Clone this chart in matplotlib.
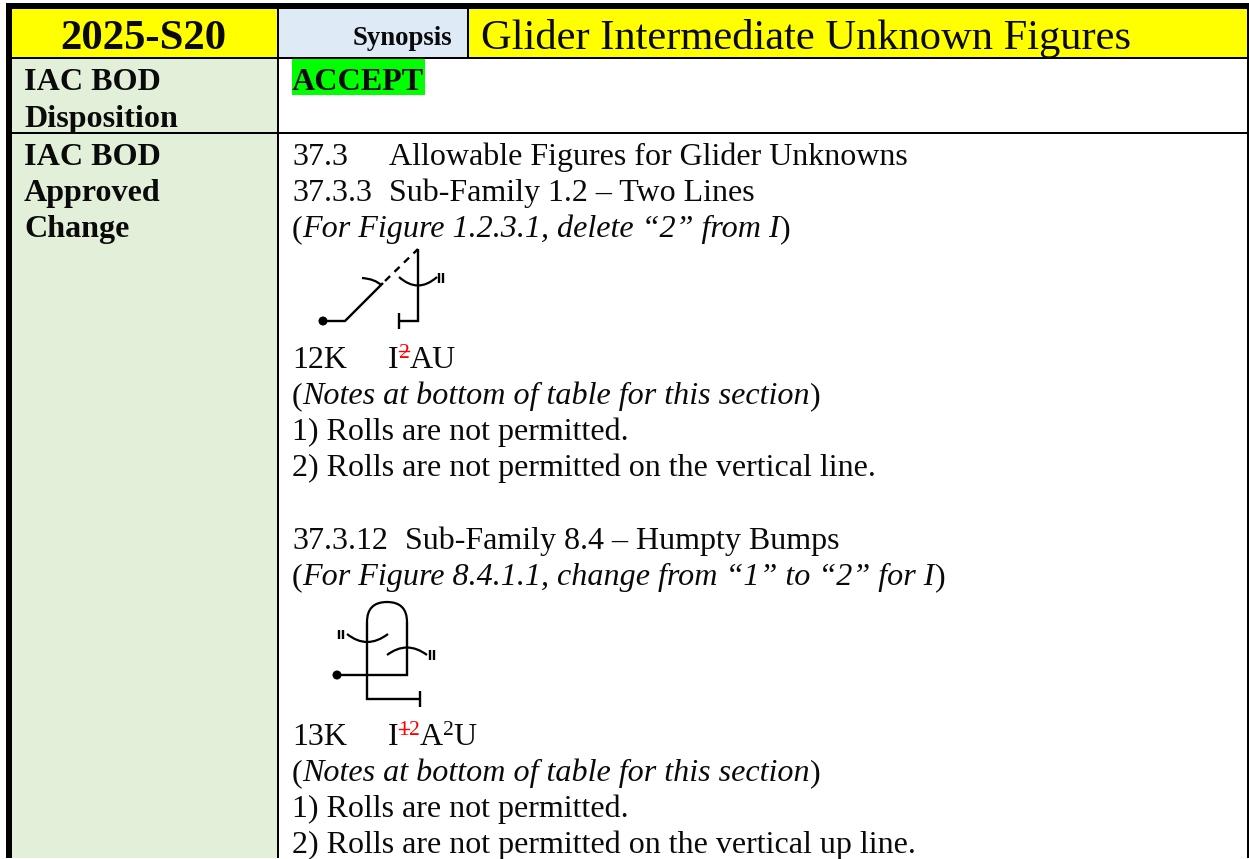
import matplotlib
matplotlib.use("Agg")
import matplotlib.pyplot as plt
from matplotlib.patches import Rectangle, PathPatch, Circle
from matplotlib.path import Path

W, H = 1249, 859
SERIF = "Liberation Serif"
BODY = 23.0
ITALIC = 23.1
Y_SHIFT = 2

header_id = "2025-S20"
header_syn = "Synopsis"
header_title = "Glider Intermediate Unknown Figures"
disposition = "ACCEPT"
left_labels = [("IAC BOD", 88), ("Disposition", 125), ("IAC BOD", 163), ("Approved", 199), ("Change", 235)]

plain_lines = [
    ("37.3", 292, 163), ("Allowable Figures for Glider Unknowns", 389, 163),
    ("37.3.3", 292, 199), ("Sub-Family 1.2 – Two Lines", 389, 199),
    ("12K", 292, 366),
    ("1) Rolls are not permitted.", 292, 438),
    ("2) Rolls are not permitted on the vertical line.", 292, 474),
    ("37.3.12", 292, 547), ("Sub-Family 8.4 – Humpty Bumps", 405, 547),
    ("13K", 292, 743),
    ("1) Rolls are not permitted.", 292, 815),
    ("2) Rolls are not permitted on the vertical up line.", 292, 851),
]
italic_lines = [
    ("For Figure 1.2.3.1, delete “2” from I", 235),
    ("Notes at bottom of table for this section", 402),
    ("For Figure 8.4.1.1, change from “1” to “2” for I", 583),
    ("Notes at bottom of table for this section", 779),
]

# schematic aerobatic figures (pixel positions)
fig1_solid = [[(323, 321), (345, 321), (383, 283)], [(418, 249), (418, 321), (399, 321)], [(399, 313), (399, 329)],
              [(439.5, 273), (439.5, 283)], [(443, 273), (443, 283)]]
fig1_dash = [(385, 281), (418, 249)]
fig1_arcs = [[(362, 278), (375, 279), (381, 285)], [(399, 277), (418, 294), (437, 277)]]
fig1_dot = (323, 321)

fig2_solid = [[(337, 675), (407, 675), (407, 622)], [(367, 622), (367, 699), (420, 699)], [(420, 691), (420, 707)],
              [(339.5, 630), (339.5, 639)], [(343.5, 630), (343.5, 639)],
              [(430.5, 650), (430.5, 660)], [(434.5, 650), (434.5, 660)]]
fig2_arcs = [[(347, 634), (367, 650), (388, 634)], [(387, 655), (407, 640), (427, 655)]]
fig2_loop = [(367, 622), (367, 602), (387, 602), (407, 602), (407, 622)]
fig2_dot = (337, 675)

fig = plt.figure(figsize=(W / 100, H / 100), dpi=100)
ax = fig.add_axes([0, 0, 1, 1])
ax.set_xlim(0, W)
ax.set_ylim(H, 0)
ax.axis("off")


def rect(x0, y0, x1, y1, c, z=1):
    ax.add_patch(Rectangle((x0, y0), x1 - x0, y1 - y0, fc=c, ec="none", lw=0, zorder=z))


def txt(x, y, s, size=BODY, **kw):
    kw.setdefault("color", "#0a0a0a")
    return ax.text(x, y + Y_SHIFT, s, family=SERIF, fontsize=size, va="baseline", zorder=5, **kw)


def adv(t):
    bb = t.get_window_extent(fig.canvas.get_renderer()).transformed(ax.transData.inverted())
    return bb.x1


def runs(x, y, parts):
    for s, kw in parts:
        t = txt(x, y, s, **kw)
        x = adv(t)
    return x


# backgrounds and rules
rect(6, 3, W, 9, "black")
rect(6, 3, 12, 858, "black")
rect(12, 9, 277, 57, "#ffff00")
rect(279, 9, 467, 57, "#deeaf6")
rect(469, 9, 1247, 57, "#ffff00")
rect(12, 59, 277, 858, "#e2efd9")
rect(277, 9, 279, 858, "black")
rect(467, 9, 469, 57, "black")
rect(12, 57, 1247, 59, "black")
rect(12, 132, 1247, 134, "black")
rect(1247, 3, 1249, 858, "black")
rect(292, 59, 425, 95, "#00ff00", 2)

# headers
txt(143, 47, header_id, size=30.7, weight="bold", ha="center")
txt(353, 43, header_syn, size=19.3, weight="bold")
txt(481, 47, header_title, size=30.6)
txt(292, 88, disposition, size=ITALIC, weight="bold")
for s, y in left_labels:
    txt(24, y, s, size=ITALIC, weight="bold")

# body
for s, x, y in plain_lines:
    txt(x, y, s)
for s, y in italic_lines:
    runs(292, y, [("(", {"size": ITALIC}), (s, {"style": "italic", "size": ITALIC}), (")", {"size": ITALIC})])

# figure labels with struck-out revisions
RED = "#ff0000"
SUP = 15.5
x = adv(txt(388, 366, "I"))
x1 = adv(txt(x, 356, "2", size=SUP, color=RED))
ax.plot([x, x1], [351, 351], color=RED, lw=1, zorder=6)
txt(x1, 366, "AU")

x = adv(txt(388, 743, "I"))
x1 = adv(txt(x, 733, "1", size=SUP, color=RED))
ax.plot([x, x1], [729, 729], color=RED, lw=1, zorder=6)
x2 = adv(txt(x1, 733, "2", size=SUP, color=RED))
x3 = adv(txt(x2, 743, "A"))
x4 = adv(txt(x3, 733, "2", size=SUP))
txt(x4, 743, "U")


# figures
def poly(pts, **kw):
    xs, ys = zip(*pts)
    ax.plot(xs, ys, color="black", lw=1.7, solid_joinstyle="miter", solid_capstyle="butt", zorder=4, **kw)


def curve(pts, codes):
    ax.add_patch(PathPatch(Path(pts, codes), fc="none", ec="black", lw=1.6, zorder=4))


for p in fig1_solid + fig2_solid:
    poly(p)
poly(fig1_dash, linestyle=(0, (3, 2.6)), dash_capstyle="butt")
for p in fig1_arcs + fig2_arcs:
    curve(p, [Path.MOVETO, Path.CURVE3, Path.CURVE3])
curve(fig2_loop, [Path.MOVETO, Path.CURVE3, Path.CURVE3, Path.CURVE3, Path.CURVE3])
for d in (fig1_dot, fig2_dot):
    ax.add_patch(Circle(d, 4.5, fc="black", ec="none", zorder=5))

fig.savefig("out.png", dpi=100, facecolor="white")
